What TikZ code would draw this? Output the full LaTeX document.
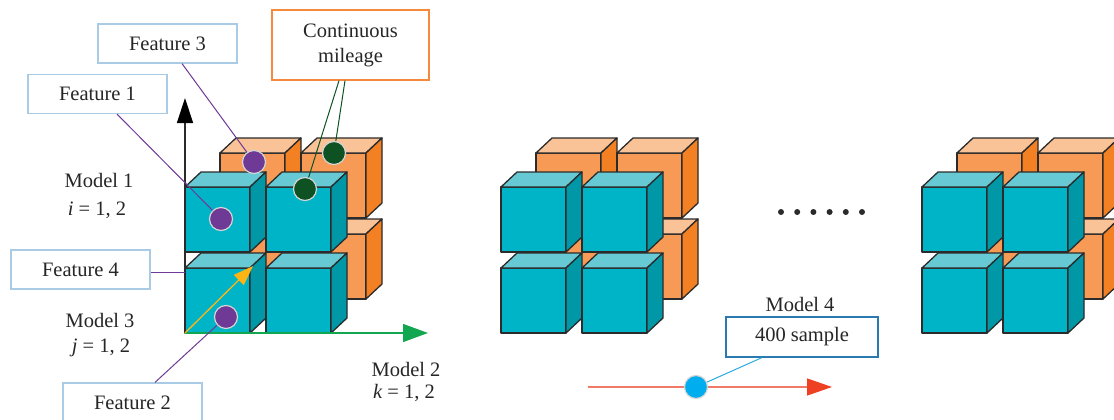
\documentclass[tikz,border=0pt]{standalone}
\usepackage{fontspec}
\setmainfont{Liberation Serif}
\usetikzlibrary{arrows.meta}

\definecolor{edge}{HTML}{2B2B2B}
\definecolor{cyanfront}{HTML}{00B4C8}
\definecolor{cyantop}{HTML}{66C9D4}
\definecolor{cyanside}{HTML}{0097A7}
\definecolor{orgfront}{HTML}{F79A55}
\definecolor{orgtop}{HTML}{F9C297}
\definecolor{orgside}{HTML}{F48024}
\definecolor{featpurple}{HTML}{6F3996}
\definecolor{milegreen}{HTML}{0E5223}
\definecolor{boxblue}{HTML}{A9CBE6}
\definecolor{boxorange}{HTML}{F58A3E}
\definecolor{sampleblue}{HTML}{2A7AB0}
\definecolor{axisgreen}{HTML}{13A650}
\definecolor{axisyellow}{HTML}{FDB515}
\definecolor{redline}{HTML}{F07A65}
\definecolor{redhead}{HTML}{EE4023}
\definecolor{dotblue}{HTML}{00AEEF}
\definecolor{linkblue}{HTML}{29ABE2}
\definecolor{ringgray}{HTML}{D4D4D4}

\tikzset{
  x=1pt, y=-1pt,
  txt/.style={font=\fontsize{20.5}{24}\selectfont, text=black!85, inner sep=0pt},
  labelbox/.style={txt, draw=boxblue, line width=1.2pt, fill=white,
    minimum width=139pt, minimum height=39pt},
  featdot/.style={circle, fill=featpurple, draw=ringgray, line width=1.2pt,
    minimum size=23pt, inner sep=0pt},
  miledot/.style={featdot, fill=milegreen},
  featlink/.style={featpurple, line width=1pt},
  milelink/.style={milegreen, line width=1pt},
  % one cube; origin = bottom-left corner of its front face
  pics/cbcube/.style n args={3}{code={
    \begin{scope}[draw=edge, line width=1.3pt, line join=round]
      \filldraw[fill=#1] (0,0) rectangle (65,-65);
      \filldraw[fill=#2] (0,-65) -- (16,-80) -- (81,-80) -- (65,-65) -- cycle;
      \filldraw[fill=#3] (65,0) -- (65,-65) -- (81,-80) -- (81,-15) -- cycle;
    \end{scope}
  }},
  % 2x2x2 block: orange layer behind, cyan layer in front
  pics/cluster/.style={code={
    \foreach \dx/\dy in {0/-81, 81/-81, 0/0, 81/0}
      \pic at (35+\dx,-34+\dy) {cbcube={orgfront}{orgtop}{orgside}};
    \foreach \dx/\dy in {0/-81, 81/-81, 0/0, 81/0}
      \pic at (\dx,\dy) {cbcube={cyanfront}{cyantop}{cyanside}};
  }},
}

\begin{document}
\begin{tikzpicture}
\useasboundingbox (0,0) rectangle (1114,420);
\clip (0,0) rectangle (1114,420);

% vertical axis (behind the cubes)
\coordinate (O) at (185,333);
\coordinate (ytip) at (185,98);
\draw[edge, line width=1.3pt, -{Triangle[length=25pt,width=16pt,fill=black,color=black]}] (O) -- (ytip);

% the three cube blocks
\pic at (185,333) {cluster};
\pic at (501,333) {cluster};
\pic at (922,333) {cluster};

% horizontal and diagonal axes
\coordinate (xtip) at (428,333);
\coordinate (ztip) at (253,266);
\draw[axisgreen, line width=1.3pt, -{Triangle[length=25pt,width=18pt]}] (O) -- (xtip);
\draw[axisyellow, line width=1.3pt, -{Triangle[length=20pt,width=14pt]}] (O) -- (ztip);

% axis labels
\node[txt] (m1) at (99,180) {Model 1};
\node[txt] (m1i) at (97,210) {{\itshape i} = 1, 2};
\node[txt] (m3) at (100,320) {Model 3};
\node[txt] (m3j) at (101,348) {{\itshape j} = 1, 2};
\node[txt] (m2) at (406,369) {Model 2};
\node[txt] (m2k) at (404,393) {{\itshape k} = 1, 2};

% feature boxes
\node[labelbox] (f3) at (167.5,43.5) {Feature 3};
\node[labelbox] (f1) at (97.5,94) {Feature 1};
\node[labelbox] (f4) at (80.5,269.5) {Feature 4};
\node[labelbox] (f2) at (132.5,402.5) {Feature 2};
\node[txt, draw=boxorange, line width=1.2pt, fill=white, minimum width=157pt,
      minimum height=70pt, align=center] (cm) at (350.5,45)
      {Continuous\\[1pt]mileage};

% feature dots
\node[featdot] (d3) at (254,162) {};
\node[featdot] (d1) at (221,219) {};
\node[featdot] (d2) at (226,317) {};
\node[miledot] (g1) at (334,153) {};
\node[miledot] (g2) at (305,189) {};
\coordinate (f4end) at (185,272);

% connectors
\draw[featlink] ([xshift=14.5pt]f3.south) -- (d3);
\draw[featlink] ([xshift=19.5pt]f1.south) -- (d1);
\draw[featlink] ([yshift=-2.5pt]f4.east) -- (f4end);
\draw[featlink] ([xshift=22.5pt]f2.north) -- (d2);
\draw[milelink] ([xshift=-11.5pt]cm.south) -- (g2);
\draw[milelink] ([xshift=-5.5pt]cm.south) -- (g1);

% ellipsis between blocks
\foreach \i in {0,...,5}
  \fill[edge] (781+16.2*\i,212) circle (3pt);

% sample axis
\coordinate (sstart) at (588,387);
\coordinate (send) at (832,387);
\draw[redline, line width=1.3pt, -{Triangle[length=25pt,width=17pt,fill=redhead,color=redhead]}] (sstart) -- (send);
\node[txt] (m4) at (800,304) {Model 4};
\node[txt, draw=sampleblue, line width=1.2pt, fill=white, minimum width=152pt,
      minimum height=40pt] (ns) at (802,337) {400 sample};
\node[featdot, fill=dotblue] (sd) at (696,387) {};
\draw[linkblue, line width=1pt] ([xshift=-40pt]ns.south) -- (sd);
\end{tikzpicture}
\end{document}
